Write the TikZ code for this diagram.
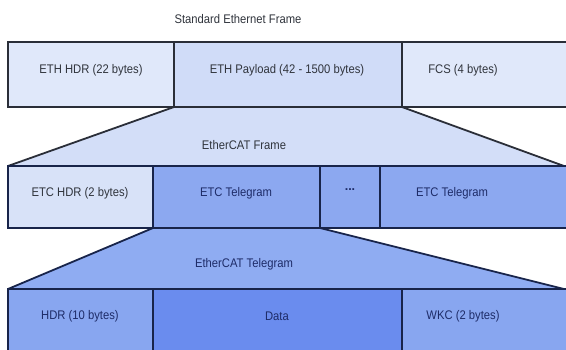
\documentclass[tikz,border=0pt]{standalone}
\usepackage{graphicx}
\usepackage{fontspec}
\setmainfont{Liberation Sans}
\newcommand{\nrw}[1]{\scalebox{0.9}[1]{#1}}
\begin{document}
\begin{tikzpicture}[x=1pt,y=-1pt,
  box/.style={draw=#1, line width=1.8pt},
  lbl/.style={font=\fontsize{12.5}{14}\selectfont, text=#1, inner sep=0pt},
]
\definecolor{ltA}{HTML}{E0E8FA}
\definecolor{ltB}{HTML}{D0DCF8}
\definecolor{trA}{HTML}{D3DEF8}
\definecolor{ltC}{HTML}{D8E2F8}
\definecolor{mdA}{HTML}{8CA8F0}
\definecolor{trB}{HTML}{8FACF2}
\definecolor{mdB}{HTML}{88A6F0}
\definecolor{dkA}{HTML}{6A8CEE}
\definecolor{edgeA}{HTML}{2A2E38}
\definecolor{edgeB}{HTML}{18244A}
\definecolor{txtA}{HTML}{30343C}
\definecolor{txtB}{HTML}{1E2C68}
\useasboundingbox (0,0) rectangle (566,349);
\fill[white] (0,0) rectangle (566,349);
% coordinates
\coordinate (r1a) at (8,42);   \coordinate (r1b) at (174,42);
\coordinate (r1c) at (402,42); \coordinate (r1d) at (570,42);
\coordinate (r1e) at (8,107);  \coordinate (r1f) at (174,107);
\coordinate (r1g) at (402,107);\coordinate (r1h) at (570,107);
\coordinate (t1l) at (8,166);  \coordinate (t1r) at (564,166);
\coordinate (r2e) at (8,228);  \coordinate (r2f) at (153,228);
\coordinate (r2g) at (320,228);
\coordinate (t2l) at (8,289);  \coordinate (t2r) at (564,289);
% trapezoids
\filldraw[fill=trA, draw=edgeA, line width=1.8pt, line join=round] (r1f) -- (t1l) -- (t1r) -- (r1g);
\filldraw[fill=trB, draw=edgeB, line width=1.8pt, line join=round] (r2f) -- (t2l) -- (t2r) -- (r2g);
% row 1
\filldraw[fill=ltA, box=edgeA] (r1a) rectangle (r1f);
\filldraw[fill=ltB, box=edgeA] (r1b) rectangle (r1g);
\filldraw[fill=ltA, box=edgeA] (r1c) rectangle (r1h);
% row 2
\filldraw[fill=ltC, box=edgeB] (8,166) rectangle (153,228);
\filldraw[fill=mdA, box=edgeB] (153,166) rectangle (320,228);
\filldraw[fill=mdA, box=edgeB] (320,166) rectangle (380,228);
\filldraw[fill=mdA, box=edgeB] (380,166) rectangle (570,228);
% row 3
\filldraw[fill=mdB, box=edgeB] (8,289) rectangle (153,355);
\filldraw[fill=dkA, box=edgeB] (153,289) rectangle (402,355);
\filldraw[fill=mdB, box=edgeB] (402,289) rectangle (570,355);
% labels
\node[lbl=txtA] (tA) at (238,19) {\nrw{Standard Ethernet Frame}};
\node[lbl=txtA] (a1) at (91,70) {\nrw{ETH HDR (22 bytes)}};
\node[lbl=txtA] (a2) at (287,70) {\nrw{ETH Payload (42 - 1500 bytes)}};
\node[lbl=txtA] (a3) at (463,70) {\nrw{FCS (4 bytes)}};
\node[lbl=txtA] (tB) at (244,145) {\nrw{EtherCAT Frame}};
\node[lbl=txtA] (b1) at (80,193) {\nrw{ETC HDR (2 bytes)}};
\node[lbl=txtB] (b2) at (236,193) {\nrw{ETC Telegram}};
\node[lbl=txtB, font=\bfseries\fontsize{12.5}{14}\selectfont] (b3) at (350,190) {...};
\node[lbl=txtB] (b4) at (452,193) {\nrw{ETC Telegram}};
\node[lbl=txtB] (tC) at (244,264) {\nrw{EtherCAT Telegram}};
\node[lbl=txtB] (c1) at (80,316) {\nrw{HDR (10 bytes)}};
\node[lbl=txtB] (c2) at (277,316) {\nrw{Data}};
\node[lbl=txtB] (c3) at (463,316) {\nrw{WKC (2 bytes)}};
\end{tikzpicture}
\end{document}
